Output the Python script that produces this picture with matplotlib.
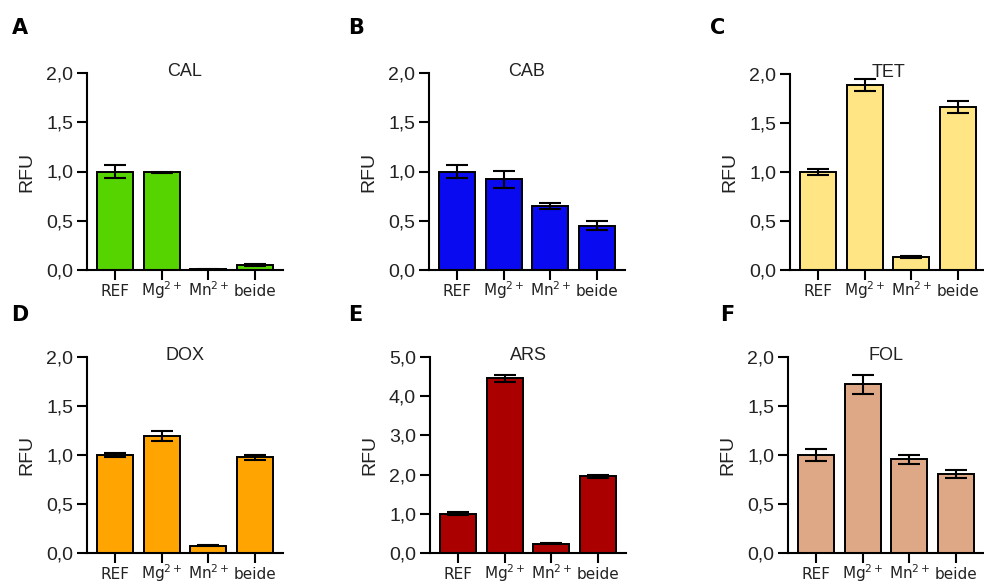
import matplotlib.pyplot as plt
from matplotlib.ticker import FuncFormatter, MultipleLocator

CONDITIONS = ["REF", "Mg$^{2+}$", "Mn$^{2+}$", "beide"]

cal = [1.00, 0.99, 0.01, 0.055]
cal_err = [0.07, 0.01, 0.005, 0.01]
cab = [1.00, 0.92, 0.65, 0.45]
cab_err = [0.07, 0.09, 0.03, 0.045]
tet = [1.00, 1.89, 0.13, 1.66]
tet_err = [0.03, 0.06, 0.01, 0.06]
dox = [1.00, 1.19, 0.075, 0.975]
dox_err = [0.025, 0.05, 0.005, 0.03]
ars = [1.00, 4.46, 0.24, 1.96]
ars_err = [0.04, 0.09, 0.02, 0.04]
fol = [1.00, 1.72, 0.955, 0.81]
fol_err = [0.06, 0.095, 0.045, 0.04]

PANELS = [
    ("A", "CAL", cal, cal_err, "#55d400", 2.0, 0.5),
    ("B", "CAB", cab, cab_err, "#0a0af0", 2.0, 0.5),
    ("C", "TET", tet, tet_err, "#ffe583", 2.0, 0.5),
    ("D", "DOX", dox, dox_err, "#ffa400", 2.0, 0.5),
    ("E", "ARS", ars, ars_err, "#aa0000", 5.0, 1.0),
    ("F", "FOL", fol, fol_err, "#dea886", 2.0, 0.5),
]

W, H = 984, 585
# axes boxes in pixels: left, top, right, bottom
BOXES = [
    (87, 73, 283, 270), (429, 73, 625, 270), (790, 74, 986, 270),
    (87, 357, 283, 553), (430, 357, 626, 553), (788, 357, 984, 553),
]
LETTER_POS = [(12, 34), (348, 34), (710, 34), (11, 321), (348, 321), (720, 321)]


def comma(v, _):
    return f"{v:.1f}".replace(".", ",")


fig = plt.figure(figsize=(W / 100, H / 100), dpi=100)

for (letter, title, vals, errs, color, ymax, step), box, lpos in zip(
    PANELS, BOXES, LETTER_POS
):
    l, t, r, b = box
    ax = fig.add_axes([l / W, 1 - b / H, (r - l) / W, (b - t) / H])
    x = list(range(len(vals)))
    ax.bar(x, vals, width=0.77, color=color, edgecolor="black", linewidth=1.4,
           zorder=2)
    ax.errorbar(x, vals, yerr=errs, fmt="none", ecolor="black", elinewidth=1.5,
                capsize=8, capthick=1.5, zorder=3)
    ax.set_xlim(-0.6, 3.6)
    ax.set_ylim(0, ymax)
    ax.yaxis.set_major_locator(MultipleLocator(step))
    ax.yaxis.set_major_formatter(FuncFormatter(comma))
    ax.set_xticks(x)
    ax.set_xticklabels(CONDITIONS, fontsize=11, family="DejaVu Sans",
                       va="baseline")
    for lab in ax.get_yticklabels():
        lab.set_family("Liberation Sans")
        lab.set_fontsize(14)
    ax.tick_params(axis="both", direction="out", length=7, width=1.5,
                   color="black", labelcolor="#222222")
    ax.tick_params(axis="x", pad=12)
    ax.tick_params(axis="y", pad=3)
    for side in ("top", "right"):
        ax.spines[side].set_visible(False)
    for side in ("left", "bottom"):
        ax.spines[side].set_linewidth(1.5)
    ax.set_ylabel("RFU", fontsize=14, family="Liberation Sans", color="#222222",
                  labelpad=8)
    ax.text(0.5, 0.985, title, transform=ax.transAxes, ha="center",
            va="baseline", fontsize=13, family="Liberation Sans",
            color="#222222")
    fig.text(lpos[0] / W, 1 - lpos[1] / H, letter, fontsize=15,
             fontweight="bold", family="DejaVu Sans", ha="left",
             va="baseline")

fig.savefig("out.png", dpi=100, facecolor="white")
